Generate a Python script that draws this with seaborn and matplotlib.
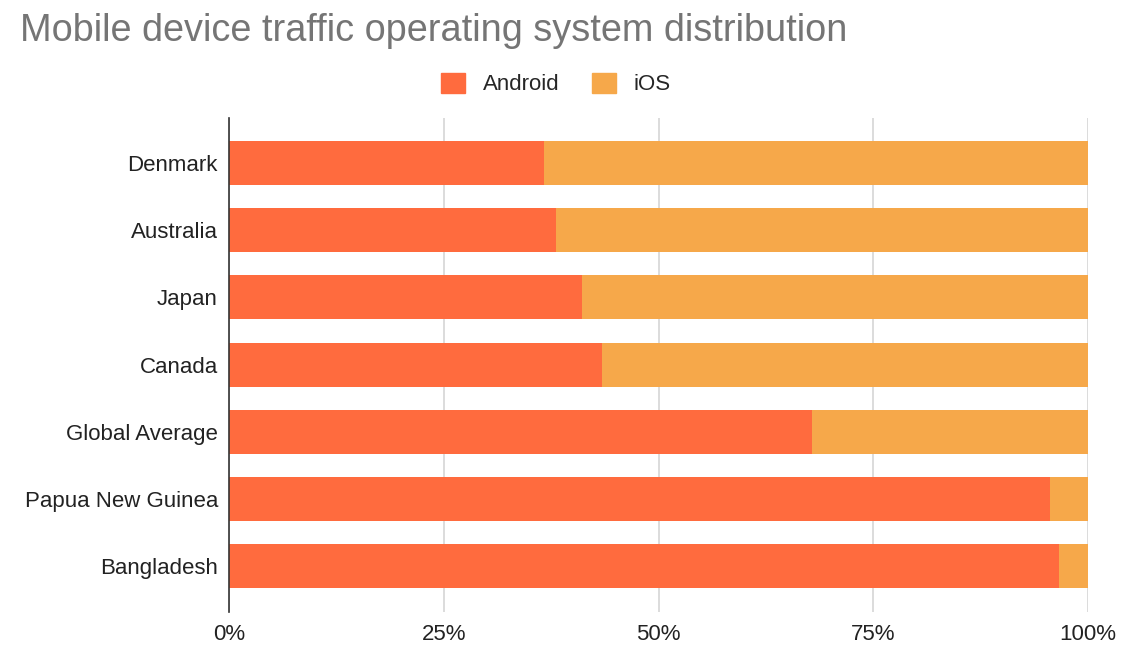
import matplotlib
matplotlib.use("Agg")
import matplotlib.pyplot as plt
import matplotlib.patches as mpatches
from matplotlib.ticker import FuncFormatter
import seaborn as sns
import pandas as pd

countries = ["Denmark", "Australia", "Japan", "Canada", "Global Average",
             "Papua New Guinea", "Bangladesh"]
android = [36.7, 38.1, 41.1, 43.4, 67.9, 95.6, 96.6]
ios = [63.3, 61.9, 58.9, 56.6, 32.1, 4.4, 3.4]
x_ticks = [0, 25, 50, 75, 100]

ANDROID_C = "#FF6B3E"
IOS_C = "#F6A84A"

sns.set_theme(style="white")
plt.rcParams["font.family"] = ["Liberation Sans", "DejaVu Sans"]

df = pd.DataFrame({"country": countries, "android": android, "ios": ios})
df["total"] = df["android"] + df["ios"]

fig = plt.figure(figsize=(11.38, 6.70), dpi=100)
ax = fig.add_axes([229 / 1138, 1 - 612 / 670, (1088 - 229) / 1138, (612 - 118) / 670])

sns.barplot(data=df, y="country", x="total", color=IOS_C, orient="h",
            width=0.655, ax=ax, saturation=1, zorder=2, linewidth=0, edgecolor="none")
sns.barplot(data=df, y="country", x="android", color=ANDROID_C, orient="h",
            width=0.655, ax=ax, saturation=1, zorder=3, linewidth=0, edgecolor="none")

ax.set_xlim(0, 100)
ax.set_ylim(6.68, -0.67)
ax.set_xticks(x_ticks)
ax.xaxis.set_major_formatter(FuncFormatter(lambda v, p: f"{v:.0f}%"))
ax.set_xlabel("")
ax.set_ylabel("")
ax.grid(axis="x", color="#D6D6D6", linewidth=1.2, zorder=0)
ax.set_axisbelow(True)
for s in ["top", "right", "bottom"]:
    ax.spines[s].set_visible(False)
ax.spines["left"].set_color("#333333")
ax.spines["left"].set_linewidth(1.2)
ax.spines["left"].set_zorder(5)
ax.tick_params(axis="both", length=0, labelsize=16, colors="#222222")
ax.tick_params(axis="x", pad=9)
ax.tick_params(axis="y", pad=8)

fig.text(20 / 1138, 1 - 31 / 670, "Mobile device traffic operating system distribution",
         fontsize=27.3, color="#757575", ha="left", va="center")

handles = [mpatches.Patch(color=ANDROID_C, label="Android"),
           mpatches.Patch(color=IOS_C, label="iOS")]
fig.legend(handles=handles, loc="center", bbox_to_anchor=(556 / 1138, 1 - 84 / 670),
           ncol=2, frameon=False, fontsize=16, handlelength=1.05, handleheight=1.05,
           columnspacing=1.5, handletextpad=0.8)

fig.savefig("out.png", dpi=100, facecolor="white")
